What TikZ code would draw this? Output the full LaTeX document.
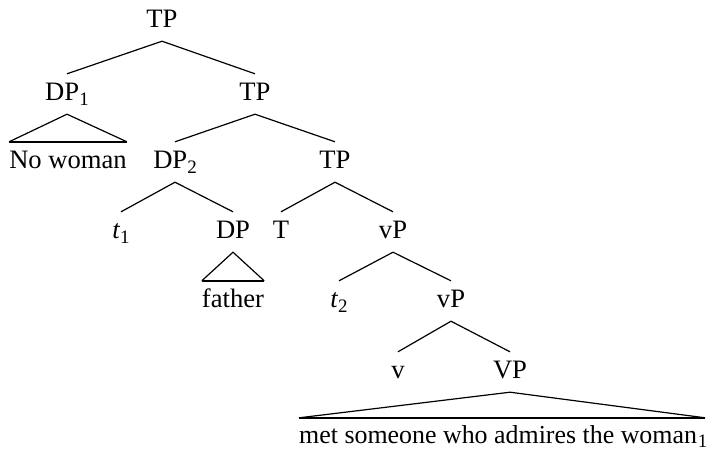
\documentclass[tikz,border=0pt]{standalone}
\usepackage{fontspec}
\setmainfont{Liberation Serif}
\newcommand{\lsub}[2][-5.5pt]{\raisebox{#1}{\fontsize{19}{19}\selectfont #2}}
\begin{document}
\begin{tikzpicture}[x=1pt,y=-1pt,
  lab/.style={anchor=base,inner sep=0pt,text height=26pt,text depth=14pt,font=\fontsize{26.6}{30}\selectfont},
  edge/.style={line width=1.2pt},
  tri/.style={line width=1.2pt,line join=miter},
  triBase/.style={line width=1.9pt}]
\useasboundingbox (0,0) rectangle (714,451);
% nodes (x = centre, y = baseline)
\node[lab] (tp0) at (162,27) {TP};
\node[lab] (dp1) at (67,100) {DP\lsub{1}};
\node[lab] (tp1) at (255,100) {TP};
\node[lab] (nw) at (68,168) {No woman};
\node[lab] (dp2) at (175,168) {DP\lsub{2}};
\node[lab] (tp2) at (335,168) {TP};
\node[lab] (t1) at (121,238) {\textit{t}\lsub{1}};
\node[lab] (dp) at (233,238) {DP};
\node[lab] (T) at (281,238) {T};
\node[lab] (vp1) at (393,238) {vP};
\node[lab] (fa) at (233,307) {father};
\node[lab] (t2) at (339,307) {\textit{t}\lsub{2}};
\node[lab] (vp2) at (451,307) {vP};
\node[lab] (v) at (398,378) {v};
\node[lab] (VP) at (510,378) {VP};
\node[lab,anchor=base west,text height=25pt,text depth=4pt,font=\fontsize{25.9}{30}\selectfont] (met) at (299,443) {met someone who admires the woman\rlap{\hspace{1pt}\lsub[-4pt]{1}}};
% branches
\draw[edge] (dp1.north) -- (tp0.south) -- (tp1.north);
\draw[edge] (dp2.north) -- (tp1.south) -- (tp2.north);
\draw[edge] (t1.north) -- (dp2.south) -- (dp.north);
\draw[edge] (T.north) -- (tp2.south) -- (vp1.north);
\draw[edge] (t2.north) -- (vp1.south) -- (vp2.north);
\draw[edge] (v.north) -- (vp2.south) -- (VP.north);
% triangles
\draw[tri] (nw.north west) -- (dp1.south) -- (nw.north east);
\draw[triBase] (nw.north west) -- (nw.north east);
\draw[tri] (fa.north west) -- (dp.south) -- (fa.north east);
\draw[triBase] (fa.north west) -- (fa.north east);
\coordinate (mr) at ([xshift=8pt]met.north east);
\draw[tri] (met.north west) -- (VP.south) -- (mr);
\draw[triBase] (met.north west) -- (mr);
\end{tikzpicture}
\end{document}
